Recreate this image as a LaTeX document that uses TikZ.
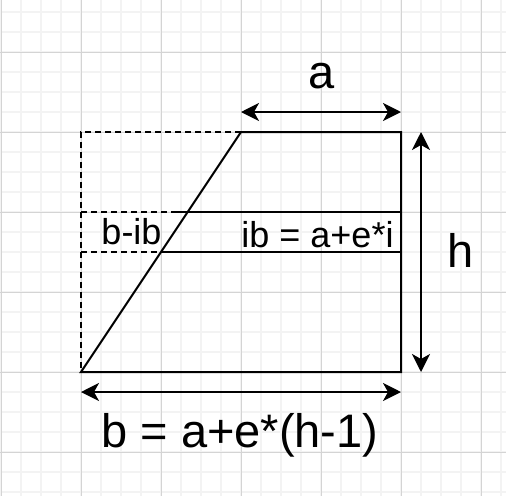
\documentclass[tikz,border=0pt]{standalone}
\usepackage{fontspec}
\setmainfont{Liberation Sans}
\usepackage{xcolor}
\definecolor{minorgray}{RGB}{243, 243, 243}
\definecolor{majorgray}{RGB}{212, 212, 212}
\usetikzlibrary{arrows.meta}

\begin{document}
\begin{tikzpicture}[x=1pt, y=-1pt, >={Stealth[length=18pt, width=18pt, inset=5pt]},
    edge/.style={line width=2pt, black},
    hidden/.style={line width=2pt, black, dash pattern=on 6pt off 4pt},
    bigtext/.style={anchor=base, inner sep=0pt, font=\fontsize{47}{52}\selectfont},
    smalltext/.style={anchor=base, inner sep=0pt, font=\fontsize{36}{40}\selectfont}]
    \useasboundingbox[fill=white] (0,0) rectangle (506,496);

    % grid
    \foreach \x in {1,21,...,501} \draw[minorgray, line width=1.5pt] (\x,0) -- (\x,496);
    \foreach \y in {12,32,...,492} \draw[minorgray, line width=1.5pt] (0,\y) -- (506,\y);
    \foreach \x in {1,81,...,481} \draw[majorgray, line width=1pt] (\x,0) -- (\x,496);
    \foreach \y in {52,132,...,452} \draw[majorgray, line width=1pt] (0,\y) -- (506,\y);

    % trapezoid corners
    \coordinate (BL) at (81,372);
    \coordinate (BR) at (401,372);
    \coordinate (TR) at (401,132);
    \coordinate (TM) at (241,132);
    \coordinate (TL) at (81,132);
    \coordinate (S1L) at (81,212);
    \coordinate (S1M) at (177,212);
    \coordinate (S1R) at (401,212);
    \coordinate (S2L) at (81,252);
    \coordinate (S2M) at (161,252);
    \coordinate (S2R) at (401,252);

    \draw[hidden] (TM) -- (TL) -- (BL);
    \draw[hidden] (S1L) -- (S1M);
    \draw[hidden] (S2L) -- (S2M);
    \draw[edge] (BL) -- (TM) -- (TR) -- (BR) -- cycle;
    \draw[edge] (S1M) -- (S1R);
    \draw[edge] (S2M) -- (S2R);

    % dimensions
    \coordinate (aL) at (241,112);
    \coordinate (aR) at (401,112);
    \coordinate (hT) at (421,132);
    \coordinate (hB) at (421,372);
    \coordinate (bL) at (81,392);
    \coordinate (bR) at (401,392);
    \draw[edge, <->] (aL) -- (aR);
    \draw[edge, <->] (hT) -- (hB);
    \draw[edge, <->] (bL) -- (bR);

    \node[bigtext] (alabel) at (322,88) {a};
    \node[bigtext] (hlabel) at (461,267) {h};
    \node[bigtext] (blabel) at (240,447) {b = a+e*(h-1)};
    \node[smalltext] (diff) at (131.5,244) {b-ib};
    \node[smalltext] (iblabel) at (317.5,247) {ib = a+e*i};
\end{tikzpicture}
\end{document}
